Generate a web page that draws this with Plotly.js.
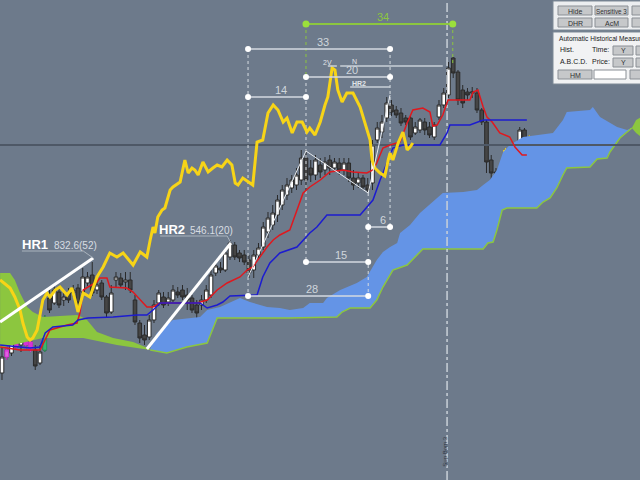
<!DOCTYPE html>
<html>
<head>
<meta charset="utf-8">
<script src="https://cdn.plot.ly/plotly-3.0.1.min.js"></script>
<style>html,body{margin:0;padding:0;background:#6d7a8b;}#chart{width:640px;height:480px;}</style>
</head>
<body>
<div id="chart"></div>
<script>
// ---------- candle data (bar index = position in arrays) ----------
const open = [107,123,127,140,135,140,138,130,117,130,
  182,177,188,180,187,187,192,188,197,205,
  190,197,183,168,200,202,198,200,180,157,
  145,143,160,177,183,178,180,188,190,185,
  182,175,175,180,185,207,212,210,223,235,
  227,225,220,210,225,233,248,255,265,275,
  285,292,295,300,322,312,305,315,310,320,
  312,317,310,317,302,297,302,295,297,340,
  348,362,375,370,367,362,362,347,350,358,
  353,343,363,375,385,422,408,390,388,387,
  387,370,358,320,308,307,307,328,322,333,
  350,327];
const close = [123,130,142,133,140,135,130,114,128,162,
  170,190,175,183,180,190,177,203,203,187,
  195,183,167,187,203,195,200,190,158,142,
  140,160,175,187,175,182,190,185,183,180,
  170,167,180,190,205,214,210,227,237,223,
  222,218,207,225,232,253,262,267,280,290,
  295,300,305,322,300,305,320,308,318,312,
  318,310,317,302,295,302,293,290,335,352,
  358,377,368,365,357,358,343,353,360,350,
  345,355,375,387,412,407,380,377,385,388,
  370,358,318,307,307,305,330,318,333,350,
  327,337];
const high = [135,135,153,153,145,150,147,135,135,165,
  190,195,192,188,192,195,196,212,208,218,
  200,200,185,195,208,207,208,208,185,160,
  155,165,180,190,188,188,195,193,195,192,
  185,180,185,195,210,218,218,230,240,238,
  230,230,225,230,237,258,268,275,285,295,
  302,305,312,330,330,320,325,322,323,325,
  322,322,322,322,310,308,305,302,340,358,
  365,383,380,374,372,365,365,358,362,362,
  358,358,380,392,418,423,410,395,392,393,
  392,372,360,325,312,315,332,332,337,353,
  352,345];
const low = [100,120,124,130,128,130,128,110,115,128,
  167,175,172,174,177,183,174,185,194,184,
  186,180,163,166,192,192,190,187,155,137,
  135,140,157,174,172,174,178,182,180,170,
  167,160,170,177,182,204,207,208,220,220,
  218,215,202,202,222,230,242,250,258,270,
  280,287,290,295,290,298,300,302,305,305,
  308,305,305,298,290,292,290,288,290,337,
  342,358,364,362,354,355,340,345,347,345,
  342,340,360,372,382,402,375,372,380,382,
  367,355,307,300,302,298,302,315,320,330,
  322,320];
const magentaBars = [1,3,5,6];
const greenBars = [9];
const yellowBars = [106,108,111];

// ---------- indicator lines ----------
const redX = [-0.4,3.8,8,9.1,10.1,13.7,15.8,16.4,17.1,18.1,20,20.6,22.1,22.7,26.3,27.6,29.1,30.5,31.8,33.3,41.1,43.2,45.3,47.4,50.1,51.6,52.8,54.3,55.8,57.1,58.5,60.6,63.4,64.8,67,69,71.8,73.9,76.8,78.1,78.9,80.2,81.7,83.8,85.3,86.5,88.6,90.1,90.7,91.6,92.8,93.9,98.5,99.2,100.2,101.3,102.1,103.2,104.8,106.9,108,109.5,110.5];
const redY = [133,130,130,140,150,155,157,167,190,193,198,202,202,193,192,188,180,173,173,177,177,180,190,197,203,210,213,223,233,240,245,250,287,293,300,308,310,308,307,310,317,332,335,338,357,370,372,368,354,355,365,380,380,388,390,373,363,358,347,343,333,325,325];
const blueX = [-0.4,5.9,8,9.1,10.7,14.9,16,18.1,23.4,28.4,30.5,31.8,33.3,41.7,43.2,45.3,46.5,48,53.7,54.9,56.4,58.5,62.1,64.8,66.3,68.4,75.4,76.8,78.1,79.6,81.1,82.3,84.4,92.2,93.7,94.3,98.5,101.3,110.5];
const blueY = [135,132,133,147,153,155,160,162,163,165,165,170,177,177,172,175,178,184,185,203,217,227,233,247,253,265,265,273,280,300,317,332,335,335,347,355,355,360,360];
const yellowX = [-0.4,1.7,2.7,3.8,4.4,5.3,5.9,6.5,7.4,8,8.6,9.5,10.1,11.2,12.2,13.7,14.7,15.4,16,17.1,18.5,20,21.3,22.7,24.2,25.5,27.6,29.1,30.5,31.2,31.8,32.2,32.8,33.7,34.3,35.4,36,37.5,38.5,39.2,40,40.6,41.3,42.3,43.4,44.4,45.3,46.3,47.4,48.4,49.1,49.7,50.7,52.2,52.8,53.7,54.9,56,57.1,58.1,59.2,60,61.1,62.1,63.2,64.2,64.8,65.9,67,68,68.6,69.5,70.1,70.7,71.6,72.6,73.9,75.4,76.4,77.5,77.9,78.5,79.6,80.6,81.3,81.7,82.3,83.4,84.4,85.3,85.9,86.5];
const yellowY = [200,192,183,170,157,143,140,142,150,167,180,187,183,190,193,185,192,180,168,187,183,203,213,227,223,227,215,228,223,240,253,247,263,270,272,290,293,298,320,307,312,310,305,318,308,312,315,313,320,315,297,295,302,297,295,338,340,367,375,370,358,362,347,358,358,348,352,345,358,375,383,412,410,390,378,387,387,373,358,340,320,312,307,304,320,327,320,337,348,330,333,337];

// ---------- cloud ----------
const greenTopX = [-0.4,1.7,2.7,3.8,5.3,6.5,8.6,15.8,16.8,17.9,20,23.4,27.6,31.2];
const greenTopY = [207,207,200,187,173,168,163,165,163,160,148,142,138,131];
const greenBotX = [-0.4,8.6,17.1,24.2,31.2];
const greenBotY = [132,142,142,135,130];
const spanAX = [31.2,32.6,36,41.7,43.2,45.9,50.1,52.2,55.8,58.5,60.6,63.4,64.8,67.6,68.4,71.2,74.7,76.8,78.9,80.2,81.7,83.2,83.8,85.9,88,89.5,91.6,92.8,97.1,100,101.3,102.7,104.2,105.5,106.9,109.7,116,118.1,118.9,123.8,124.4,125.9,129.5,131.6,132.6];
const spanAY = [131,147,160,163,170,173,182,178,173,172,170,172,177,177,182,190,197,203,220,228,233,237,247,255,267,273,282,287,288,290,295,300,310,328,335,343,347,360,368,370,373,363,353,350,352];
const spanBX = [31.2,34.7,38.9,43.2,45.3,60.6,70.5,71.6,73.3,77.5,78.9,80.2,82.3,85.3,88,88.6,101.3,102.3,103.4,104.2,105.3,106.3,112.6,113.9,115.4,116.8,118.1,118.9,123.8,125.3,127.4,128,130.1,131.6,132.6];
const spanBY = [130,127,133,137,162,162,163,168,172,172,180,193,210,215,228,231,231,237,238,250,270,272,272,278,282,292,305,312,313,321,322,328,342,348,352];
const rightGreenTopX = [132.6,133.5,134.6];
const rightGreenTopY = [352,360,363];
const rightGreenBotX = [132.6,133.5,134.6];
const rightGreenBotY = [352,347,343];
const levelPrice = 335;

// ---------- measurement tools ----------
const measureText = ['34','33','14','20','6','15','28'];
const measureY  = [456,431,383,403,253,218,184];
const measureX0 = [64,51.8,51.8,64,77.1,64,51.8];
const measureX1 = [94.9,81.7,64,81.7,81.7,77.1,77.1];
const guideX   = [51.8,64,77.1,81.7];
const guideTop = [431,403,287,431];
const guideBot = [184,218,184,253];
const greenGuideX = [64,94.9];
const greenGuideTop = [456,456];
const greenGuideBot = [403,415];
const cycleLineX = 93.7;
const abcdX = [51.8,64,77.1,81.7];
const abcdY = [203,329,287,385];
const hr1X = [-0.4,19.2], hr1Y = [158,222];
const hr2X = [30.5,48.2], hr2Y = [131,237];
const hr1TagX = [4.2,17.1,19.2], hr1TagY = [229,229,222];
const hr2TagX = [33.3,47.4,48.2], hr2TagY = [244,244,237];

const FONT = 'Liberation Sans, Arial, sans-serif';
const idx = open.map((_, i) => i);
// full-length arrays, non-selected bars left empty so bar spacing stays identical
function subset(ids) {
  const keep = i => ids.indexOf(i) >= 0;
  return {x: idx, open: idx.map(i => keep(i) ? open[i] : null), high: idx.map(i => keep(i) ? high[i] : null),
          low: idx.map(i => keep(i) ? low[i] : null), close: idx.map(i => keep(i) ? close[i] : null)};
}
function poly(tx, ty, bx, by) {
  return {x: tx.concat(bx.slice().reverse()), y: ty.concat(by.slice().reverse())};
}
function segs(x0s, x1s, ys0, ys1) {
  const x = [], y = [];
  x0s.forEach((v, i) => { x.push(v, x1s[i], null); y.push(ys0[i], ys1[i], null); });
  return {x, y};
}

const traces = [];
const gL = poly(greenTopX, greenTopY, greenBotX, greenBotY);
traces.push({type:'scatter', mode:'lines', x:gL.x, y:gL.y, fill:'toself', fillcolor:'#8cc63f', line:{width:0}, hoverinfo:'skip'});
const bC = poly(spanAX, spanAY, spanBX, spanBY);
traces.push({type:'scatter', mode:'lines', x:bC.x, y:bC.y, fill:'toself', fillcolor:'#6494e6', line:{width:0}, hoverinfo:'skip'});
const gR = poly(rightGreenTopX, rightGreenTopY, rightGreenBotX, rightGreenBotY);
traces.push({type:'scatter', mode:'lines', x:gR.x, y:gR.y, fill:'toself', fillcolor:'#8cc63f', line:{width:0}, hoverinfo:'skip'});
traces.push({type:'scatter', mode:'lines', x:spanBX, y:spanBY, line:{color:'#8cc63f', width:1.5}});
traces.push({type:'scatter', mode:'lines', x:[-1,136], y:[levelPrice,levelPrice], line:{color:'#4e5866', width:2}});

// guides
const gd = segs(guideX, guideX, guideTop, guideBot);
traces.push({type:'scatter', mode:'lines', x:gd.x, y:gd.y, line:{color:'#d6dce2', width:1, dash:'dot'}});
const gg = segs(greenGuideX, greenGuideX, greenGuideTop, greenGuideBot);
traces.push({type:'scatter', mode:'lines', x:gg.x, y:gg.y, line:{color:'#8cc63f', width:1, dash:'dot'}});
traces.push({type:'scatter', mode:'lines', x:[cycleLineX, cycleLineX], y:[0, 480], line:{color:'#c9d0d8', width:1.5, dash:'dashdot'}});

// candles
traces.push({type:'candlestick', x: idx, open: open, high: high, low: low, close: close, whiskerwidth:0,
  increasing:{line:{color:'#2a2a2a', width:1}, fillcolor:'#ffffff'},
  decreasing:{line:{color:'#2a2a2a', width:1}, fillcolor:'#454545'}});
traces.push(Object.assign({type:'candlestick',
  increasing:{line:{color:'#d633d6', width:1}, fillcolor:'#e060e0'},
  decreasing:{line:{color:'#d633d6', width:1}, fillcolor:'#d633d6'}}, subset(magentaBars)));
traces.push(Object.assign({type:'candlestick',
  increasing:{line:{color:'#2e9d5c', width:1}, fillcolor:'#3cb371'},
  decreasing:{line:{color:'#2e9d5c', width:1}, fillcolor:'#3cb371'}}, subset(greenBars)));
traces.push(Object.assign({type:'candlestick',
  increasing:{line:{color:'#f2d21a', width:1}, fillcolor:'#ffffff'},
  decreasing:{line:{color:'#f2d21a', width:1}, fillcolor:'#454545'}}, subset(yellowBars)));

traces.push({type:'scatter', mode:'lines', x:redX, y:redY, line:{color:'#e0181e', width:1.5}});
traces.push({type:'scatter', mode:'lines', x:blueX, y:blueY, line:{color:'#1c1cd0', width:1.5}});
traces.push({type:'scatter', mode:'lines', x:yellowX, y:yellowY, line:{color:'#f7d417', width:3}});

// ABCD
traces.push({type:'scatter', mode:'lines', x:abcdX, y:abcdY, line:{color:'#e8ecf0', width:1}});
// measurement rulers
const mw = segs(measureX0.slice(1), measureX1.slice(1), measureY.slice(1), measureY.slice(1));
traces.push({type:'scatter', mode:'lines+markers', x:mw.x, y:mw.y, line:{color:'#d4dae0', width:1.5}, marker:{color:'#ffffff', size:6}});
traces.push({type:'scatter', mode:'lines+markers', x:[measureX0[0], measureX1[0]], y:[measureY[0], measureY[0]], line:{color:'#8cc63f', width:2}, marker:{color:'#9be03c', size:7}});
// small tags
traces.push({type:'scatter', mode:'lines', x:[68.6,70.5,null,71.2,92.8,null,73.3,81.7], y:[414,414,null,414,414,null,393,393], line:{color:'#c9d0d7', width:1.5}});
// HR lines
traces.push({type:'scatter', mode:'lines', x:hr1X, y:hr1Y, line:{color:'#ffffff', width:3}});
traces.push({type:'scatter', mode:'lines', x:hr2X, y:hr2Y, line:{color:'#ffffff', width:3}});
traces.push({type:'scatter', mode:'lines', x:hr1TagX, y:hr1TagY, line:{color:'#aab3bd', width:1}});
traces.push({type:'scatter', mode:'lines', x:hr2TagX, y:hr2TagY, line:{color:'#aab3bd', width:1}});

const ann = [];
measureText.forEach((t, i) => {
  ann.push({x:(measureX0[i] + measureX1[i]) / 2 + 0.8, y:measureY[i], yshift:7, text:t, showarrow:false,
    font:{family:FONT, size:11, color: i === 0 ? '#8cc63f' : '#d0d6dc'}});
});
ann.push({x:6.9, y:236, text:'<b>HR1</b>', showarrow:false, font:{family:FONT, size:13, color:'#ffffff'}});
ann.push({x:15.4, y:235, text:'832.6(52)', showarrow:false, font:{family:FONT, size:10, color:'#d8dde2'}});
ann.push({x:35.8, y:251, text:'<b>HR2</b>', showarrow:false, font:{family:FONT, size:13, color:'#ffffff'}});
ann.push({x:44.2, y:250, text:'546.1(20)', showarrow:false, font:{family:FONT, size:10, color:'#d8dde2'}});
ann.push({x:68.6, y:418, text:'2V', showarrow:false, font:{family:FONT, size:7, color:'#e0e4e8'}});
ann.push({x:74.3, y:419, text:'N', showarrow:false, font:{family:FONT, size:7, color:'#e0e4e8'}});
ann.push({x:75.2, y:397, text:'<b>HR2</b>', showarrow:false, font:{family:FONT, size:7, color:'#e0e4e8'}});
ann.push({x:93.2, y:28, text:'Sup Bom 3', textangle:-90, showarrow:false, font:{family:FONT, size:6, color:'#2e3640'}});

// ---------- control panel (paper coords from pixel layout) ----------
const W = 640, H = 480;
const shapes = [];
function rect(x0, y0, x1, y1, fill, line) {
  shapes.push({type:'rect', xref:'paper', yref:'paper', x0:x0/W, x1:x1/W, y0:1-y1/H, y1:1-y0/H,
    fillcolor:fill, line:{color:line, width:1}, layer:'above'});
}
function txt(x, y, t, size, anchor, color) {
  ann.push({xref:'paper', yref:'paper', x:x/W, y:1-y/H, text:t, showarrow:false, xanchor:anchor || 'left', yanchor:'middle',
    font:{family:FONT, size:size || 7, color:color || '#202020'}});
}
function btn(x0, y0, x1, y1, t, size) {
  rect(x0, y0, x1, y1, '#c6c8ca', '#8a8f95');
  if (t) txt((x0 + x1) / 2, (y0 + y1) / 2 + 0.5, t, size || 7, 'center', '#303030');
}
rect(553, 1, 642, 30, '#eceef0', '#7f8a96');
btn(558, 6, 592, 15, 'Hide');
btn(595, 6, 628, 15, 'Sensitive 3', 6.3);
btn(632, 6, 662, 15, '');
btn(558, 18, 592, 27, 'DHR');
btn(595, 18, 628, 27, 'AcM');
btn(632, 18, 662, 27, '');
rect(553, 32, 642, 84, '#f1f2f3', '#7f8a96');
txt(557, 38.5, 'Automatic Historical Measurement', 6.6);
txt(558, 50, 'Hist.', 7);
txt(590, 50, 'Time:', 7);
btn(613, 46, 633, 55, 'Y');
btn(636, 46, 662, 55, '');
txt(558, 62, 'A.B.C.D.', 7);
txt(590, 62, 'Price:', 7);
btn(613, 58, 633, 67, 'Y');
btn(636, 58, 662, 67, '');
btn(558, 70, 592, 79, 'HM');
rect(594, 70, 626, 79, '#ffffff', '#8a8f95');
btn(630, 70, 662, 79, '');

const layout = {
  width: 640, height: 480,
  margin: {l:0, r:0, t:0, b:0, pad:0},
  paper_bgcolor: '#6d7a8b', plot_bgcolor: '#6d7a8b',
  showlegend: false, hovermode: false,
  boxgap: 0.05, boxgroupgap: 0.2,
  xaxis: {range:[-0.42, 134.32], visible:false, showgrid:false, zeroline:false, rangeslider:{visible:false}, fixedrange:true},
  yaxis: {range:[0, 480], visible:false, showgrid:false, zeroline:false, fixedrange:true},
  shapes: shapes,
  annotations: ann
};
Plotly.newPlot('chart', traces, layout, {displayModeBar:false, staticPlot:true});
</script>
</body>
</html>
